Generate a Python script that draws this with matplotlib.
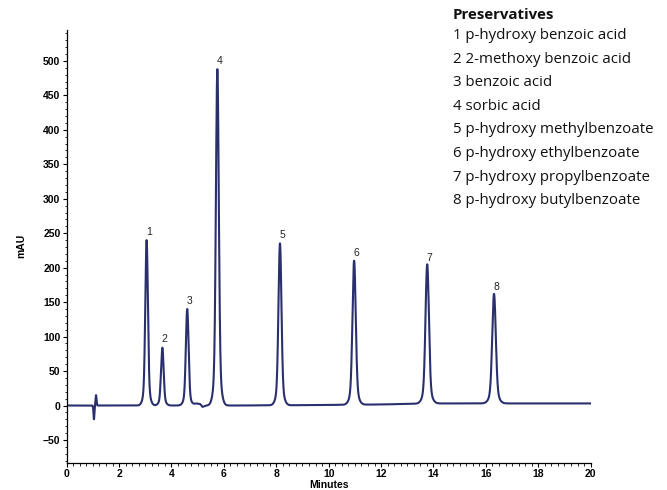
import numpy as np
import matplotlib.pyplot as plt
from matplotlib.ticker import MultipleLocator

# peak table: retention time (min), height (mAU), width (min)
peak_ids = ['1', '2', '3', '4', '5', '6', '7', '8']
peak_times = [3.05, 3.65, 4.60, 5.75, 8.14, 10.97, 13.76, 16.31]
peak_heights = [240, 84, 140, 488, 235, 209, 202, 159]
peak_widths = [0.048, 0.048, 0.050, 0.053, 0.055, 0.060, 0.063, 0.066]

# baseline drift read at a few retention times
base_t = [0.0, 4.75, 4.95, 5.10, 5.18, 5.35, 6.5, 9.0, 12.0, 13.9, 20.0]
base_y = [0.0, 0.0, 3.0, 2.0, -2.0, 0.0, 0.0, 0.5, 1.5, 3.0, 3.0]

# injection disturbance near 1.1 min
spike_times = [1.04, 1.12]
spike_heights = [-20, 15]

compounds = [
    'p-hydroxy benzoic acid',
    '2-methoxy benzoic acid',
    'benzoic acid',
    'sorbic acid',
    'p-hydroxy methylbenzoate',
    'p-hydroxy ethylbenzoate',
    'p-hydroxy propylbenzoate',
    'p-hydroxy butylbenzoate',
]

LINE = '#2a2f6e'


def peak_shape(t, t0, h, w):
    core = np.exp(-0.5 * ((t - t0) / w) ** 2)
    foot = np.exp(-0.5 * ((t - t0) / (2.2 * w)) ** 2)
    return h * (0.88 * core + 0.12 * foot)


t = np.linspace(0, 20, 8001)
signal = np.interp(t, base_t, base_y)
for t0, h, w in zip(peak_times, peak_heights, peak_widths):
    signal += peak_shape(t, t0, h, w)
for t0, h in zip(spike_times, spike_heights):
    signal += h * np.exp(-0.5 * ((t - t0) / 0.018) ** 2)

fig = plt.figure(figsize=(6.67, 4.90), dpi=100)
ax = fig.add_axes([0.100, 0.0557, 0.7856, 0.8833])
ax.plot(t, signal, color=LINE, lw=1.5)

for pid, t0, h in zip(peak_ids, peak_times, peak_heights):
    ax.annotate(pid, (t0, h), xytext=(1.5, 2.5), textcoords='offset points',
                ha='center', va='bottom', fontsize=7.5, color='#222222',
                family='Liberation Sans')

ax.set_xlim(0, 20)
ax.set_ylim(-83, 545)
ax.xaxis.set_major_locator(MultipleLocator(2))
ax.xaxis.set_minor_locator(MultipleLocator(0.25))
ax.yaxis.set_major_locator(MultipleLocator(50))
ax.yaxis.set_minor_locator(MultipleLocator(10))
ax.set_yticks(np.arange(-50, 501, 50))
ax.tick_params(which='major', length=3, width=0.8, labelsize=7.5, pad=1.5)
ax.tick_params(which='minor', length=1.8, width=0.6)
for lab in ax.get_xticklabels() + ax.get_yticklabels():
    lab.set_fontweight('bold')
    lab.set_family('Liberation Sans')
for side in ('top', 'right'):
    ax.spines[side].set_visible(False)
for side in ('left', 'bottom'):
    ax.spines[side].set_linewidth(0.9)

ax.set_xlabel('Minutes', fontsize=7.5, fontweight='bold', family='Liberation Sans', labelpad=1)
ax.set_ylabel('mAU', fontsize=7.5, fontweight='bold', family='Liberation Sans', labelpad=12)

# compound list in the upper right
lx = 453 / 667
fig.text(lx, 1 - 15 / 490, 'Preservatives', fontsize=10.8, fontweight='bold',
         family='Open Sans', va='center', ha='left', color='#111111')
for i, name in enumerate(compounds):
    y = 35.5 + i * 23.6
    fig.text(lx, 1 - y / 490, f'{i + 1} {name}', fontsize=10.8,
             family='Open Sans', va='center', ha='left', color='#111111')

fig.savefig('out.png', dpi=100)
